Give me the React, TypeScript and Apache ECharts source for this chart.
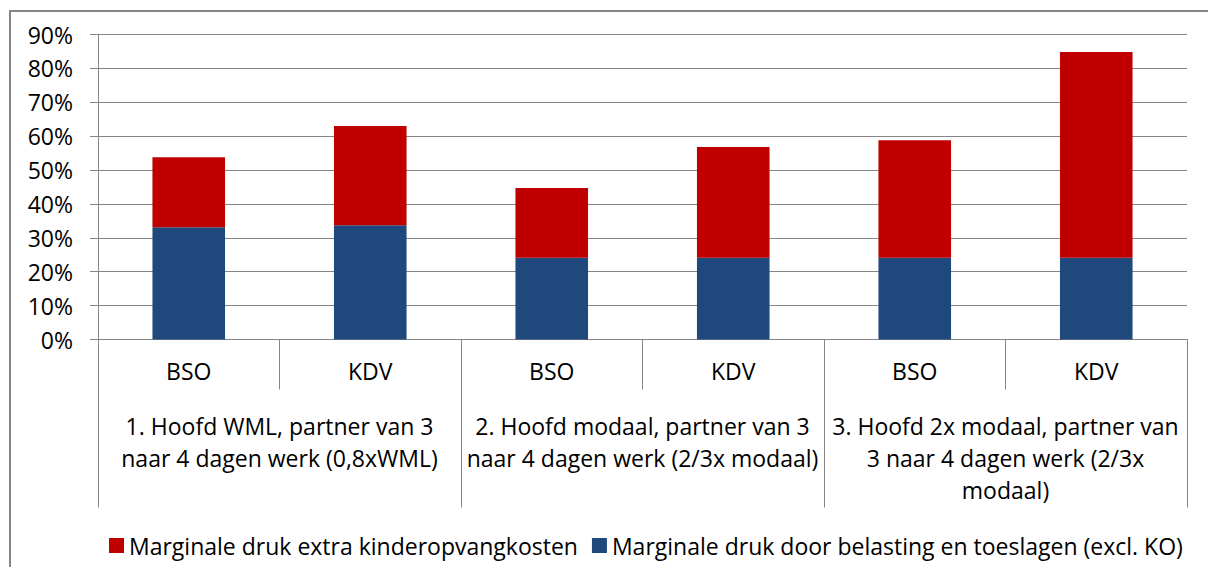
import React, { useEffect, useRef } from "react";
import * as echarts from "echarts";

const categories = ["BSO", "KDV", "BSO", "KDV", "BSO", "KDV"];
const groups = [
  "1. Hoofd WML, partner van 3\nnaar 4 dagen werk (0,8xWML)",
  "2. Hoofd modaal, partner van 3\nnaar 4 dagen werk (2/3x modaal)",
  "3. Hoofd 2x modaal, partner van\n3 naar 4 dagen werk (2/3x\nmodaal)",
];
const seriesBlueName = "Marginale druk door belasting en toeslagen (excl. KO)";
const seriesRedName = "Marginale druk extra kinderopvangkosten";
const blueValues = [33.1, 33.7, 24.1, 24.1, 24.1, 24.1];
const redValues = [20.7, 29.3, 20.6, 32.7, 34.7, 60.7];
const yTicks = { min: 0, max: 90, interval: 10 };

const FONT = "'Open Sans', Lato, sans-serif";
const FS = 23;
const GRAY = "#868686";

export default function App() {
  const ref = useRef<HTMLDivElement>(null);
  useEffect(() => {
    if (!ref.current) return;
    const chart = echarts.init(ref.current, undefined, { renderer: "svg" });
    chart.setOption({
      animation: false,
      textStyle: { fontFamily: FONT },
      graphic: [
        {
          type: "rect",
          shape: { x: 10, y: 11, width: 1400, height: 800 },
          style: { fill: "none", stroke: GRAY, lineWidth: 2 },
          silent: true,
        },
      ],
      grid: { left: 98, right: 21, top: 34.5, bottom: 227.5, containLabel: false },
      legend: {
        left: 104,
        top: 529,
        itemWidth: 15,
        itemHeight: 15,
        itemGap: 14,
        icon: "rect",
        data: [seriesRedName, seriesBlueName],
        textStyle: { fontSize: FS, color: "#000", fontFamily: FONT },
      },
      xAxis: [
        {
          type: "category",
          data: categories,
          position: "bottom",
          axisLine: { lineStyle: { color: GRAY, width: 1 } },
          axisTick: { show: true, length: 50, lineStyle: { color: GRAY } },
          axisLabel: { interval: 0, margin: 20, fontSize: FS, color: "#000", fontFamily: FONT },
        },
        {
          type: "category",
          data: groups,
          position: "bottom",
          axisLine: { show: false },
          axisTick: { show: true, length: 168, lineStyle: { color: GRAY } },
          axisLabel: {
            interval: 0,
            margin: 70,
            fontSize: FS,
            lineHeight: 32,
            color: "#000",
            fontFamily: FONT,
            align: "center",
          },
        },
      ],
      yAxis: {
        type: "value",
        min: yTicks.min,
        max: yTicks.max,
        interval: yTicks.interval,
        axisLine: { show: true, lineStyle: { color: GRAY } },
        axisTick: { show: true, length: 8, lineStyle: { color: GRAY } },
        splitLine: { show: true, lineStyle: { color: GRAY, width: 1 } },
        axisLabel: {
          formatter: "{value}%",
          margin: 25,
          fontSize: FS,
          color: "#000",
          fontFamily: FONT,
        },
      },
      series: [
        {
          name: seriesBlueName,
          type: "bar",
          stack: "total",
          data: blueValues,
          barWidth: "40%",
          itemStyle: { color: "#1F497D" },
        },
        {
          name: seriesRedName,
          type: "bar",
          stack: "total",
          data: redValues,
          barWidth: "40%",
          itemStyle: { color: "#C00000" },
        },
      ],
    });
    return () => chart.dispose();
  }, []);
  return (
    <div
      ref={ref}
      style={{ position: "fixed", left: 0, top: 0, width: 1208, height: 567, background: "#fff" }}
    />
  );
}
